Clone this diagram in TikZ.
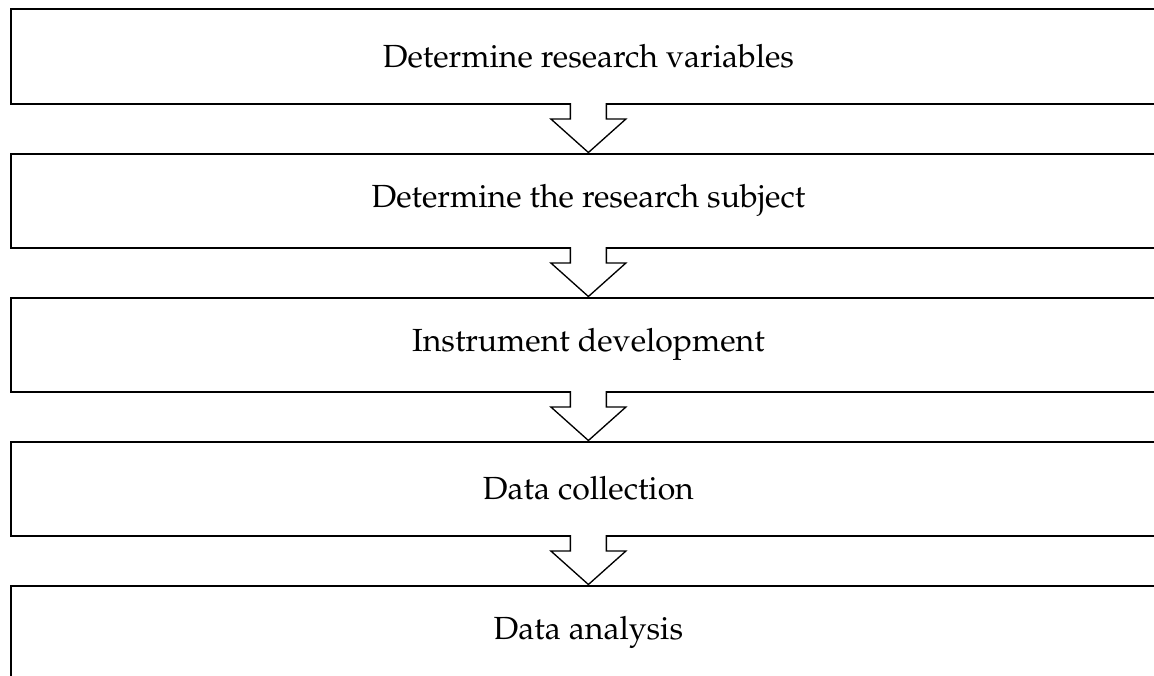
\documentclass[tikz,border=0pt]{standalone}
\usepackage[T1]{fontenc}
\usepackage{mathpazo}
\usetikzlibrary{positioning,calc}

\tikzset{
    stagebox/.style={draw, line width=0.75pt, rectangle, minimum width=432.9pt,
        minimum height=35.44pt, inner sep=0pt, font=\fontsize{12}{14}\selectfont},
    flowarrow/.style={draw, fill=white, line width=0.5pt, line join=miter},
}

\begin{document}
\begin{tikzpicture}[x=0.375pt, y=-0.375pt, node distance=17.81pt]
            \useasboundingbox (0, 0) rectangle (1154, 675);
            \clip (0, 0) rectangle (1154, 675);
            % the five steps
            \node[stagebox] (b1) at (588.4, 56.75) {Determine research variables};
            \node[stagebox, below=of b1] (b2) {Determine the research subject};
            \node[stagebox, below=of b2] (b3) {Instrument development};
            \node[stagebox, below=of b3] (b4) {Data collection};
            \node[stagebox, below=of b4] (b5) {Data analysis};
            % hollow arrows between them
            \foreach \i/\j in {1/2, 2/3, 3/4, 4/5} {
                \path[flowarrow] ($(b\i.south)+(-18, -2)$) -- ($(b\i.south)+(-18, 14)$)
                    -- ($(b\i.south)+(-37.5, 14)$) -- (b\j.north)
                    -- ($(b\i.south)+(37.5, 14)$) -- ($(b\i.south)+(18, 14)$)
                    -- ($(b\i.south)+(18, -2)$);
            }
        \end{tikzpicture}
\end{document}
